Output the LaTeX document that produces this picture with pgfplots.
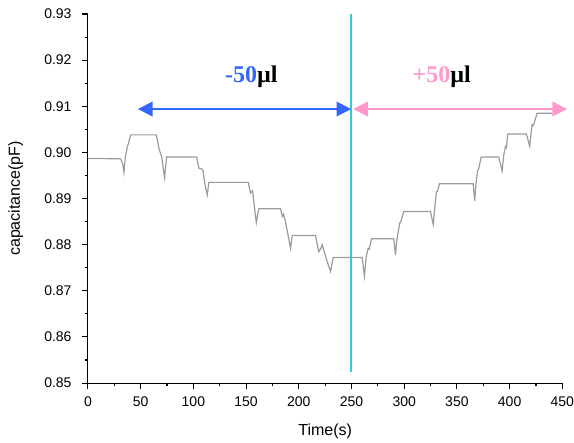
\documentclass[border=0pt]{standalone}
\usepackage{fontspec}
\setmainfont{Liberation Sans}
\newfontfamily\timesfont{Liberation Serif}
\usepackage{pgfplots}
\pgfplotsset{compat=1.18}
\usetikzlibrary{arrows.meta}

\definecolor{trace}{RGB}{155,155,155}
\definecolor{cyanline}{RGB}{51,204,204}
\definecolor{arrblue}{RGB}{51,102,255}
\definecolor{arrpink}{RGB}{255,153,204}

\begin{document}
\begin{tikzpicture}
\begin{axis}[
    scale only axis,
    width=356pt, height=277pt,
    xmin=0, xmax=450, ymin=0.85, ymax=0.93,
    axis lines*=left,
    axis line style={black, line width=0.8pt},
    xtick={0,50,...,450},
    ytick={0.85,0.86,...,0.93},
    minor x tick num=1, minor y tick num=1,
    tick align=outside,
    major tick length=4.5pt, minor tick length=2.5pt,
    tick style={black, line width=0.8pt},
    ticklabel style={font=\fontsize{10.5}{12}\selectfont},
    yticklabel style={xshift=-4.3pt, /pgf/number format/.cd, fixed, fixed zerofill, precision=2},
    xticklabel style={yshift=-2pt, inner xsep=0pt},
    /pgf/number format/assume math mode=true,
    xlabel={Time(s)}, ylabel={capacitance(pF)},
    label style={font=\fontsize{12}{14}\selectfont},
    xlabel style={yshift=-6pt},
    ylabel style={yshift=9pt},
    clip=false,
]
\addplot[trace, line width=0.9pt] coordinates {
(0,0.8987) (31,0.8986) (33,0.8975) (34.1,0.8957) (35.5,0.8990) (37.4,0.9013) (38.5,0.9020)
(40.5,0.9038) (64.8,0.9038) (66.5,0.9020) (67.3,0.9009) (70,0.8990) (72.7,0.8945)
(74.6,0.8990) (103.1,0.8990) (104.5,0.8975) (105.2,0.8966) (108,0.8964) (109,0.8962)
(111,0.8930) (113.2,0.8908) (114.7,0.8935) (152.1,0.8935) (154.2,0.8912) (156.1,0.8917)
(158,0.8880) (159.7,0.8848) (162.1,0.8878) (182.7,0.8878) (184.3,0.8861) (185.5,0.8866)
(187.4,0.8850) (192.2,0.8792) (193.8,0.8820) (215.9,0.8820) (217.5,0.8800) (219,0.8785)
(221,0.8792) (222.2,0.8800) (226,0.8770) (230.1,0.8742) (232.7,0.8772) (260.1,0.8772)
(262.3,0.8732) (264,0.8775) (265.8,0.8792) (266.8,0.8790) (269,0.8813) (290.1,0.8813)
(291.7,0.8778) (293,0.8810) (295.8,0.8847) (296.8,0.8850) (299.6,0.8872) (324.9,0.8872)
(327.5,0.8844) (329,0.8880) (330.6,0.8915) (331.5,0.8915) (333.4,0.8932) (365.4,0.8932)
(366.9,0.8895) (368,0.8930) (369.7,0.8961) (370.5,0.8963) (373,0.8990) (389.7,0.8990)
(392.9,0.8960) (394.5,0.8995) (396,0.9013) (397,0.9010) (398.2,0.9040) (415.9,0.9040)
(419.1,0.9013) (420,0.9035) (421.3,0.9060) (422.5,0.9058) (426.1,0.9085) (440.3,0.9085)
};
% marker at the switch from removing to adding
\addplot[cyanline, line width=1.5pt] coordinates {(250,0.93) (250,0.8524)};
\addplot[arrblue, line width=1.2pt, {Triangle[length=11pt,width=11pt]}-{Triangle[length=11pt,width=11pt]}]
    coordinates {(47.4,0.9094) (249.7,0.9094)};
\addplot[arrpink, line width=1.2pt, {Triangle[length=11pt,width=11pt]}-{Triangle[length=11pt,width=11pt]}]
    coordinates {(251.6,0.9094) (454.5,0.9094)};
\node[font=\timesfont\bfseries\fontsize{18}{20}\selectfont] at (axis cs:155,0.9164)
    {\textcolor{arrblue}{-50}µl};
\node[font=\timesfont\bfseries\fontsize{18}{20}\selectfont] at (axis cs:335.6,0.9164)
    {\textcolor{arrpink}{+50}µl};
% white margin left of the label and above the top tick, as in the figure
\path (axis cs:0,0.93) ++(-66pt,10.5pt);
\end{axis}
\end{tikzpicture}
\end{document}
